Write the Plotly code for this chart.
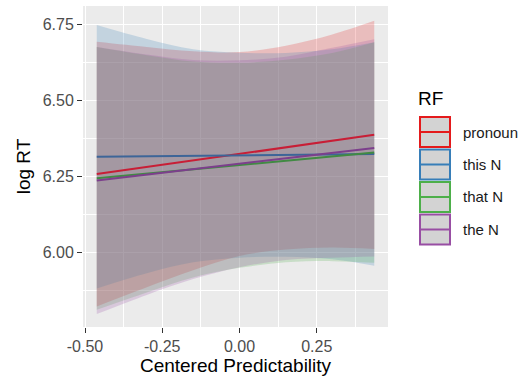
import plotly.graph_objects as go

# ---- data ----
x_grid = [-0.462, -0.3, -0.15, 0.0, 0.15, 0.3, 0.436]
series_names = ["pronoun", "this N", "that N", "the N"]

fit_pronoun = [6.257, 6.280, 6.301, 6.323, 6.344, 6.366, 6.386]
upper_pronoun = [6.692, 6.675, 6.661, 6.658, 6.679, 6.716, 6.761]
lower_pronoun = [5.822, 5.885, 5.941, 5.988, 6.009, 6.016, 6.011]

fit_this = [6.314, 6.316, 6.317, 6.319, 6.320, 6.322, 6.323]
upper_this = [6.747, 6.701, 6.667, 6.656, 6.655, 6.667, 6.690]
lower_this = [5.881, 5.931, 5.967, 5.982, 5.985, 5.977, 5.956]

fit_that = [6.243, 6.258, 6.272, 6.286, 6.300, 6.313, 6.328]
upper_that = [6.675, 6.648, 6.627, 6.623, 6.633, 6.655, 6.690]
lower_that = [5.811, 5.868, 5.917, 5.949, 5.967, 5.971, 5.966]

fit_the = [6.236, 6.255, 6.272, 6.291, 6.309, 6.327, 6.343]
upper_the = [6.675, 6.650, 6.632, 6.631, 6.643, 6.672, 6.700]
lower_the = [5.797, 5.860, 5.912, 5.951, 5.975, 5.982, 5.986]

x_ticks = [-0.5, -0.25, 0.0, 0.25]
x_ticklabels = ["-0.50", "-0.25", "0.00", "0.25"]
y_ticks = [6.0, 6.25, 6.5, 6.75]
y_ticklabels = ["6.00", "6.25", "6.50", "6.75"]

colors = ["#E41A1C", "#377EB8", "#4DAF4A", "#984EA3"]
line_colors = ["#C81E36", "#3D6598", "#418A43", "#7C3F8C"]
fills = ["rgba(228,26,28,0.22)", "rgba(55,126,184,0.22)",
         "rgba(77,175,74,0.22)", "rgba(152,78,163,0.22)"]

fits = [fit_pronoun, fit_this, fit_that, fit_the]
uppers = [upper_pronoun, upper_this, upper_that, upper_the]
lowers = [lower_pronoun, lower_this, lower_that, lower_the]

# ---- layout geometry (pixels) ----
W, H = 529, 378
L, R, T, B = 83, 141, 6, 51

fig = go.Figure()
for u, lo, fc in zip(uppers, lowers, fills):
    fig.add_trace(go.Scatter(x=x_grid, y=lo, mode="lines", line=dict(width=0, shape="spline"),
                             showlegend=False, hoverinfo="skip"))
    fig.add_trace(go.Scatter(x=x_grid, y=u, mode="lines", line=dict(width=0, shape="spline"),
                             fill="tonexty", fillcolor=fc, showlegend=False, hoverinfo="skip"))
for name, lc, f in zip(series_names, line_colors, fits):
    fig.add_trace(go.Scatter(x=x_grid, y=f, mode="lines", line=dict(color=lc, width=2),
                             name=name, showlegend=False))

font_family = "Liberation Sans, Arial, sans-serif"

fig.update_layout(
    width=W, height=H,
    margin=dict(l=L, r=R, t=T, b=B, pad=0),
    paper_bgcolor="white",
    plot_bgcolor="#EBEBEB",
    font=dict(family=font_family),
    showlegend=False,
    xaxis=dict(
        range=[-0.5065, 0.4805], automargin=False,
        tickvals=x_ticks, ticktext=x_ticklabels,
        ticks="outside", ticklen=5, tickwidth=1.1, tickcolor="#333333",
        tickfont=dict(size=16, color="#4D4D4D"),
        showgrid=True, gridcolor="white", gridwidth=1.1,
        minor=dict(dtick=0.125, tick0=-0.375, showgrid=True, gridcolor="white", gridwidth=0.5, ticks=""),
        zeroline=False, showline=False,
        title=dict(text="Centered Predictability", font=dict(size=19, color="black"), standoff=4),
    ),
    yaxis=dict(
        range=[5.7545, 6.8095], automargin=False,
        tickvals=y_ticks, ticktext=y_ticklabels,
        ticks="outside", ticklen=5, tickwidth=1.1, tickcolor="#333333",
        tickfont=dict(size=16, color="#4D4D4D"),
        showgrid=True, gridcolor="white", gridwidth=1.1,
        minor=dict(dtick=0.125, tick0=5.875, showgrid=True, gridcolor="white", gridwidth=0.5, ticks=""),
        zeroline=False, showline=False,
        title=dict(text="log RT", font=dict(size=19, color="black"), standoff=7),
    ),
)

# ---- manual ggplot-style legend ----
pw = W - L - R
ph = H - T - B


def px_x(px):
    return (px - L) / pw


def px_y(py):
    return (H - B - py) / ph


fig.add_annotation(x=px_x(416), y=px_y(98), xref="paper", yref="paper", text="RF",
                   showarrow=False, xanchor="left", yanchor="middle",
                   font=dict(size=19, color="black", family=font_family))

key_left, key_w, key_h, pitch, top0 = 420, 30, 30, 32.5, 117
for i, (name, c) in enumerate(zip(series_names, colors)):
    y0 = top0 + i * pitch
    fig.add_shape(type="rect", xref="paper", yref="paper",
                  x0=px_x(key_left), x1=px_x(key_left + key_w),
                  y0=px_y(y0), y1=px_y(y0 + key_h),
                  fillcolor="#D3D3D3", line=dict(color=c, width=2))
    fig.add_shape(type="line", xref="paper", yref="paper",
                  x0=px_x(key_left), x1=px_x(key_left + key_w),
                  y0=px_y(y0 + key_h / 2), y1=px_y(y0 + key_h / 2),
                  line=dict(color=c, width=2))
    fig.add_annotation(x=px_x(461), y=px_y(y0 + key_h / 2), xref="paper", yref="paper",
                       text=name, showarrow=False, xanchor="left", yanchor="middle",
                       font=dict(size=15, color="#1A1A1A", family=font_family))

fig.write_html("out.html", config={"displayModeBar": False},
               post_script="document.body.style.margin='0';")
